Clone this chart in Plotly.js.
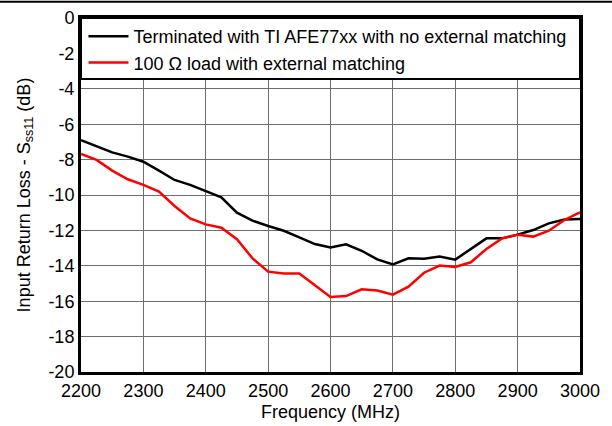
<!DOCTYPE html>
<html>
<head>
<meta charset="utf-8">
<script src="https://cdn.plot.ly/plotly-3.0.1.min.js"></script>
<style>html,body{margin:0;padding:0;background:#fff;}#chart{width:612px;height:426px;}</style>
</head>
<body>
<div id="chart"></div>
<script>
const freq = [2200,2225,2250,2275,2300,2325,2350,2375,2400,2425,2450,2475,2500,2525,2550,2575,2600,2625,2650,2675,2700,2725,2750,2775,2800,2825,2850,2875,2900,2925,2950,2975,3000];
const terminated = [-6.9,-7.23,-7.59,-7.83,-8.12,-8.62,-9.15,-9.43,-9.77,-10.13,-11.0,-11.45,-11.75,-12.02,-12.39,-12.77,-12.96,-12.79,-13.15,-13.64,-13.92,-13.58,-13.6,-13.48,-13.65,-13.03,-12.45,-12.45,-12.24,-11.98,-11.6,-11.38,-11.36];
const matched = [-7.68,-8.02,-8.62,-9.11,-9.43,-9.81,-10.62,-11.32,-11.66,-11.85,-12.5,-13.58,-14.33,-14.43,-14.44,-15.12,-15.76,-15.71,-15.33,-15.4,-15.63,-15.18,-14.39,-13.99,-14.07,-13.8,-13.05,-12.45,-12.24,-12.35,-12.02,-11.41,-10.98];
const seriesNames = ["Terminated with TI AFE77xx with no external matching","100 \u03A9 load with external matching"];
const xTicks = [2200,2300,2400,2500,2600,2700,2800,2900,3000];
const yTicks = [0,-2,-4,-6,-8,-10,-12,-14,-16,-18,-20];

const font = {family:"Liberation Sans, Arial, sans-serif", size:18, color:"#000"};
const traces = [
  {x:freq, y:terminated, name:seriesNames[0], mode:"lines", line:{color:"#000000", width:2.5}},
  {x:freq, y:matched, name:seriesNames[1], mode:"lines", line:{color:"#ff0000", width:2.5}}
];
const layout = {
  width:612, height:426,
  margin:{l:81, r:32, t:18, b:54},
  paper_bgcolor:"#fff", plot_bgcolor:"#fff",
  font:font,
  showlegend:true,
  legend:{x:0.005, y:1.0, xanchor:"left", yanchor:"top", bgcolor:"rgba(0,0,0,0)", borderwidth:0,
          font:{family:font.family, size:18, color:"#000"}, tracegroupgap:0, itemwidth:40},
  xaxis:{range:[2200,3000], tickvals:xTicks, ticktext:xTicks.map(String), showgrid:true, gridcolor:"#6e6e6e", gridwidth:1,
         showline:true, mirror:true, linecolor:"#000", linewidth:3, ticks:"", zeroline:false,
         tickfont:{size:18}, title:{text:"Frequency (MHz)", font:{size:18}, standoff:6}},
  yaxis:{range:[-20,0], tickvals:yTicks, ticktext:yTicks.map(String), showgrid:true, gridcolor:"#6e6e6e", gridwidth:1,
         showline:true, mirror:true, linecolor:"#000", linewidth:3, ticks:"", zeroline:false,
         tickfont:{size:18}, title:{text:"Input Return Loss - S<sub>ss11</sub> (dB)", font:{size:18}, standoff:14}},
  shapes:[
    {type:"rect", xref:"x", yref:"y", x0:2200, x1:3000, y0:-3.45, y1:0, fillcolor:"#fff", line:{color:"#000", width:2}, layer:"above"},
    {type:"line", xref:"paper", yref:"paper", x0:-0.2, x1:1.1, y0:1.046, y1:1.046, line:{color:"#000", width:2}}
  ]
};
Plotly.newPlot("chart", traces, layout, {displayModeBar:false, staticPlot:true});
</script>
</body>
</html>
